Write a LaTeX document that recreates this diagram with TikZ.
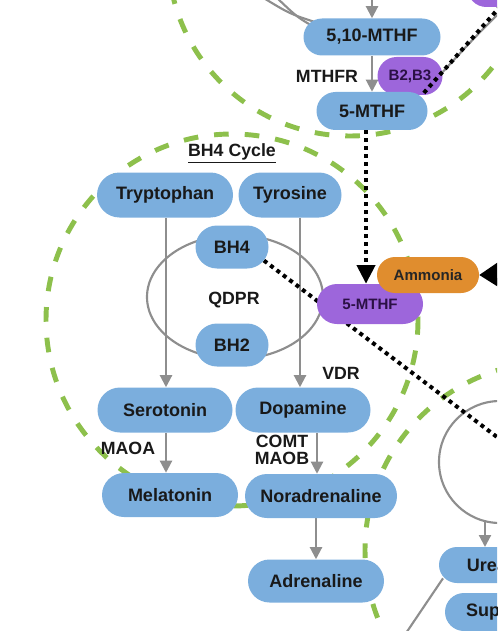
\documentclass[tikz,border=0pt]{standalone}
\usepackage{fontspec}
\setmainfont{Liberation Sans}
\usetikzlibrary{shapes.misc,arrows.meta}
\definecolor{nodeblue}{HTML}{7BAEDD}
\definecolor{nodepurple}{HTML}{9D66DB}
\definecolor{nodeorange}{HTML}{E08D2E}
\definecolor{cyclegreen}{HTML}{8DC04C}
\definecolor{linegray}{HTML}{8E8E8E}
\definecolor{purpletext}{HTML}{2B1045}
\pgfdeclarelayer{back}
\pgfsetlayers{back,main}
\begin{document}
\begin{tikzpicture}[x=0.75pt,y=-0.75pt,
  box/.style={rounded rectangle, inner sep=0pt, font=\fontsize{13.5}{15}\selectfont\bfseries, text=black!90},
  bluebox/.style={box, fill=nodeblue},
  purplebox/.style={box, fill=nodepurple, text=purpletext, font=\fontsize{11.3}{13}\selectfont\bfseries},
  orangebox/.style={box, fill=nodeorange, text=black!85, font=\fontsize{11.3}{13}\selectfont\bfseries},
  lbl/.style={font=\fontsize{13.3}{12.75}\selectfont\bfseries, inner sep=0pt, align=center, text=black!90},
  greencycle/.style={draw=cyclegreen, line width=3.7pt, dash pattern=on 11pt off 12pt},
  grayline/.style={draw=linegray, line width=1.6pt},
  grayarrow/.style={grayline, -{Triangle[width=9pt,length=9pt]}},
  dotline/.style={draw=black, line width=3pt, dash pattern=on 3pt off 3pt},
  blackarrow/.style={-{Triangle[width=13.5pt,length=14pt]}}
]
\useasboundingbox (0,0) rectangle (497,631);
\clip (0,0) rectangle (497,631);

% ---------- nodes ----------
\node[bluebox, minimum width=102.75pt, minimum height=27.75pt] (mthf510) at (372,37) {5,10-MTHF};
\node[bluebox, minimum width=83.25pt, minimum height=28.5pt] (topmthf) at (372,111) {5-MTHF};
\node[purplebox, minimum width=82pt, minimum height=28.5pt] (toppurple) at (522,-12) {};
\node[bluebox, minimum width=102pt, minimum height=33.75pt] (trp) at (165,195) {Tryptophan};
\node[bluebox, minimum width=77.25pt, minimum height=33.75pt] (tyr) at (290,195) {Tyrosine};
\node[bluebox, minimum width=54.75pt, minimum height=32.25pt] (bh4) at (232,247) {BH4};
\node[bluebox, minimum width=54.75pt, minimum height=32.25pt] (bh2) at (232,345) {BH2};
\node[bluebox, minimum width=101.25pt, minimum height=33.75pt] (ser) at (165,410) {Serotonin};
\node[bluebox, minimum width=101.25pt, minimum height=33.75pt] (dop) at (303,410) {Dopamine};
\node[bluebox, minimum width=102pt, minimum height=33pt] (mel) at (170,495) {Melatonin};
\node[bluebox, minimum width=114pt, minimum height=33pt] (nor) at (321,496) {Noradrenaline};
\node[bluebox, minimum width=102pt, minimum height=32.25pt] (adr) at (316,581) {Adrenaline};
\node[purplebox, minimum width=79.5pt, minimum height=30pt] (midmthf) at (370,304) {5-MTHF};
\node[orangebox, minimum width=76.5pt, minimum height=27pt] (amm) at (428,275) {Ammonia};
\node[bluebox, minimum width=72pt, minimum height=27pt] (urea) at (487,565) {Urea};
\node[bluebox, minimum width=57pt, minimum height=28.5pt] (sup) at (483,612) {Sup};

% ---------- labels ----------
\node[lbl] (lmthfr) at (327,76) {MTHFR};
\node[lbl] (ltitle) at (232,153) {\underline{BH4 Cycle}};
\node[lbl] (lqdpr) at (234,300) {QDPR};
\node[lbl] (lvdr) at (341,373) {VDR};
\node[lbl] (lmaoa) at (128,448) {MAOA};
\node[lbl] (lcomt) at (282,450) {COMT\\MAOB};

% ---------- free ends ----------
\coordinate (topin) at (372,-6);
\coordinate (g1s) at (262,-3);
\coordinate (g1e) at (318,23);
\coordinate (g2s) at (276,-3);
\coordinate (g2e) at (318,29);
\coordinate (trs) at (509,3);
\coordinate (dtr) at (506,0);
\coordinate (dtrend) at (422,95);
\coordinate (dbend) at (530,462);
\coordinate (ammin) at (530,274);
\coordinate (circb) at (485,521);
\coordinate (ureain) at (485,547);
\coordinate (ureaout) at (400,642);

\begin{pgfonlayer}{back}
\clip (0,0) rectangle (497,631);
% green cycles
\draw[greencycle] (350,-46) circle[radius=182];
\draw[greencycle] (232,320) circle[radius=186];
\draw[greencycle] (553,550) circle[radius=188];
% gray shapes
\draw[grayline] (235,297) ellipse[x radius=88, y radius=62];
\draw[grayline] (500,462) circle[radius=61];
\draw[grayline] (g1s) .. controls (290,14) .. (g1e);
\draw[grayline] (g2s) .. controls (298,18) .. (g2e);
% gray arrows
\draw[grayarrow] (topin) -- (mthf510.north);
\draw[grayarrow] (mthf510.south) -- (topmthf.north);
\draw[grayarrow] ([xshift=0.75pt]trp.south) -- ([xshift=0.75pt]ser.north);
\draw[grayarrow] ([xshift=7.5pt]tyr.south) -- ([xshift=-2.25pt]dop.north);
\draw[grayarrow] ([xshift=0.75pt]ser.south) -- ([xshift=-3pt]mel.north);
\draw[grayarrow] ([xshift=10.5pt]dop.south) -- ([xshift=-3pt]nor.north);
\draw[grayarrow] ([xshift=-3.75pt]nor.south) -- (adr.north);
\draw[grayarrow] (circb) -- (ureain);
\draw[grayline] ([xshift=-33pt,yshift=-10pt]urea.center) -- (ureaout);
% dotted lines
\draw[dotline] ([yshift=8pt]bh4.center) -- (dbend);
\draw[dotline, blackarrow] ([xshift=-4.5pt]topmthf.south) -- ([xshift=-3pt]midmthf.north);
\draw[black, line width=1.5pt, -{Triangle[width=18pt,length=14pt]}] (ammin) -- (amm.east);
% B2,B3 with its connectors
\node[purplebox, minimum width=48.75pt, minimum height=28.5pt] (b23) at (410,76) {B2,B3};
\draw[grayline] (trs) .. controls (474,38) .. ([yshift=3pt]b23.east);
\draw[dotline] (dtr) -- (dtrend);
\end{pgfonlayer}
\end{tikzpicture}
\end{document}
